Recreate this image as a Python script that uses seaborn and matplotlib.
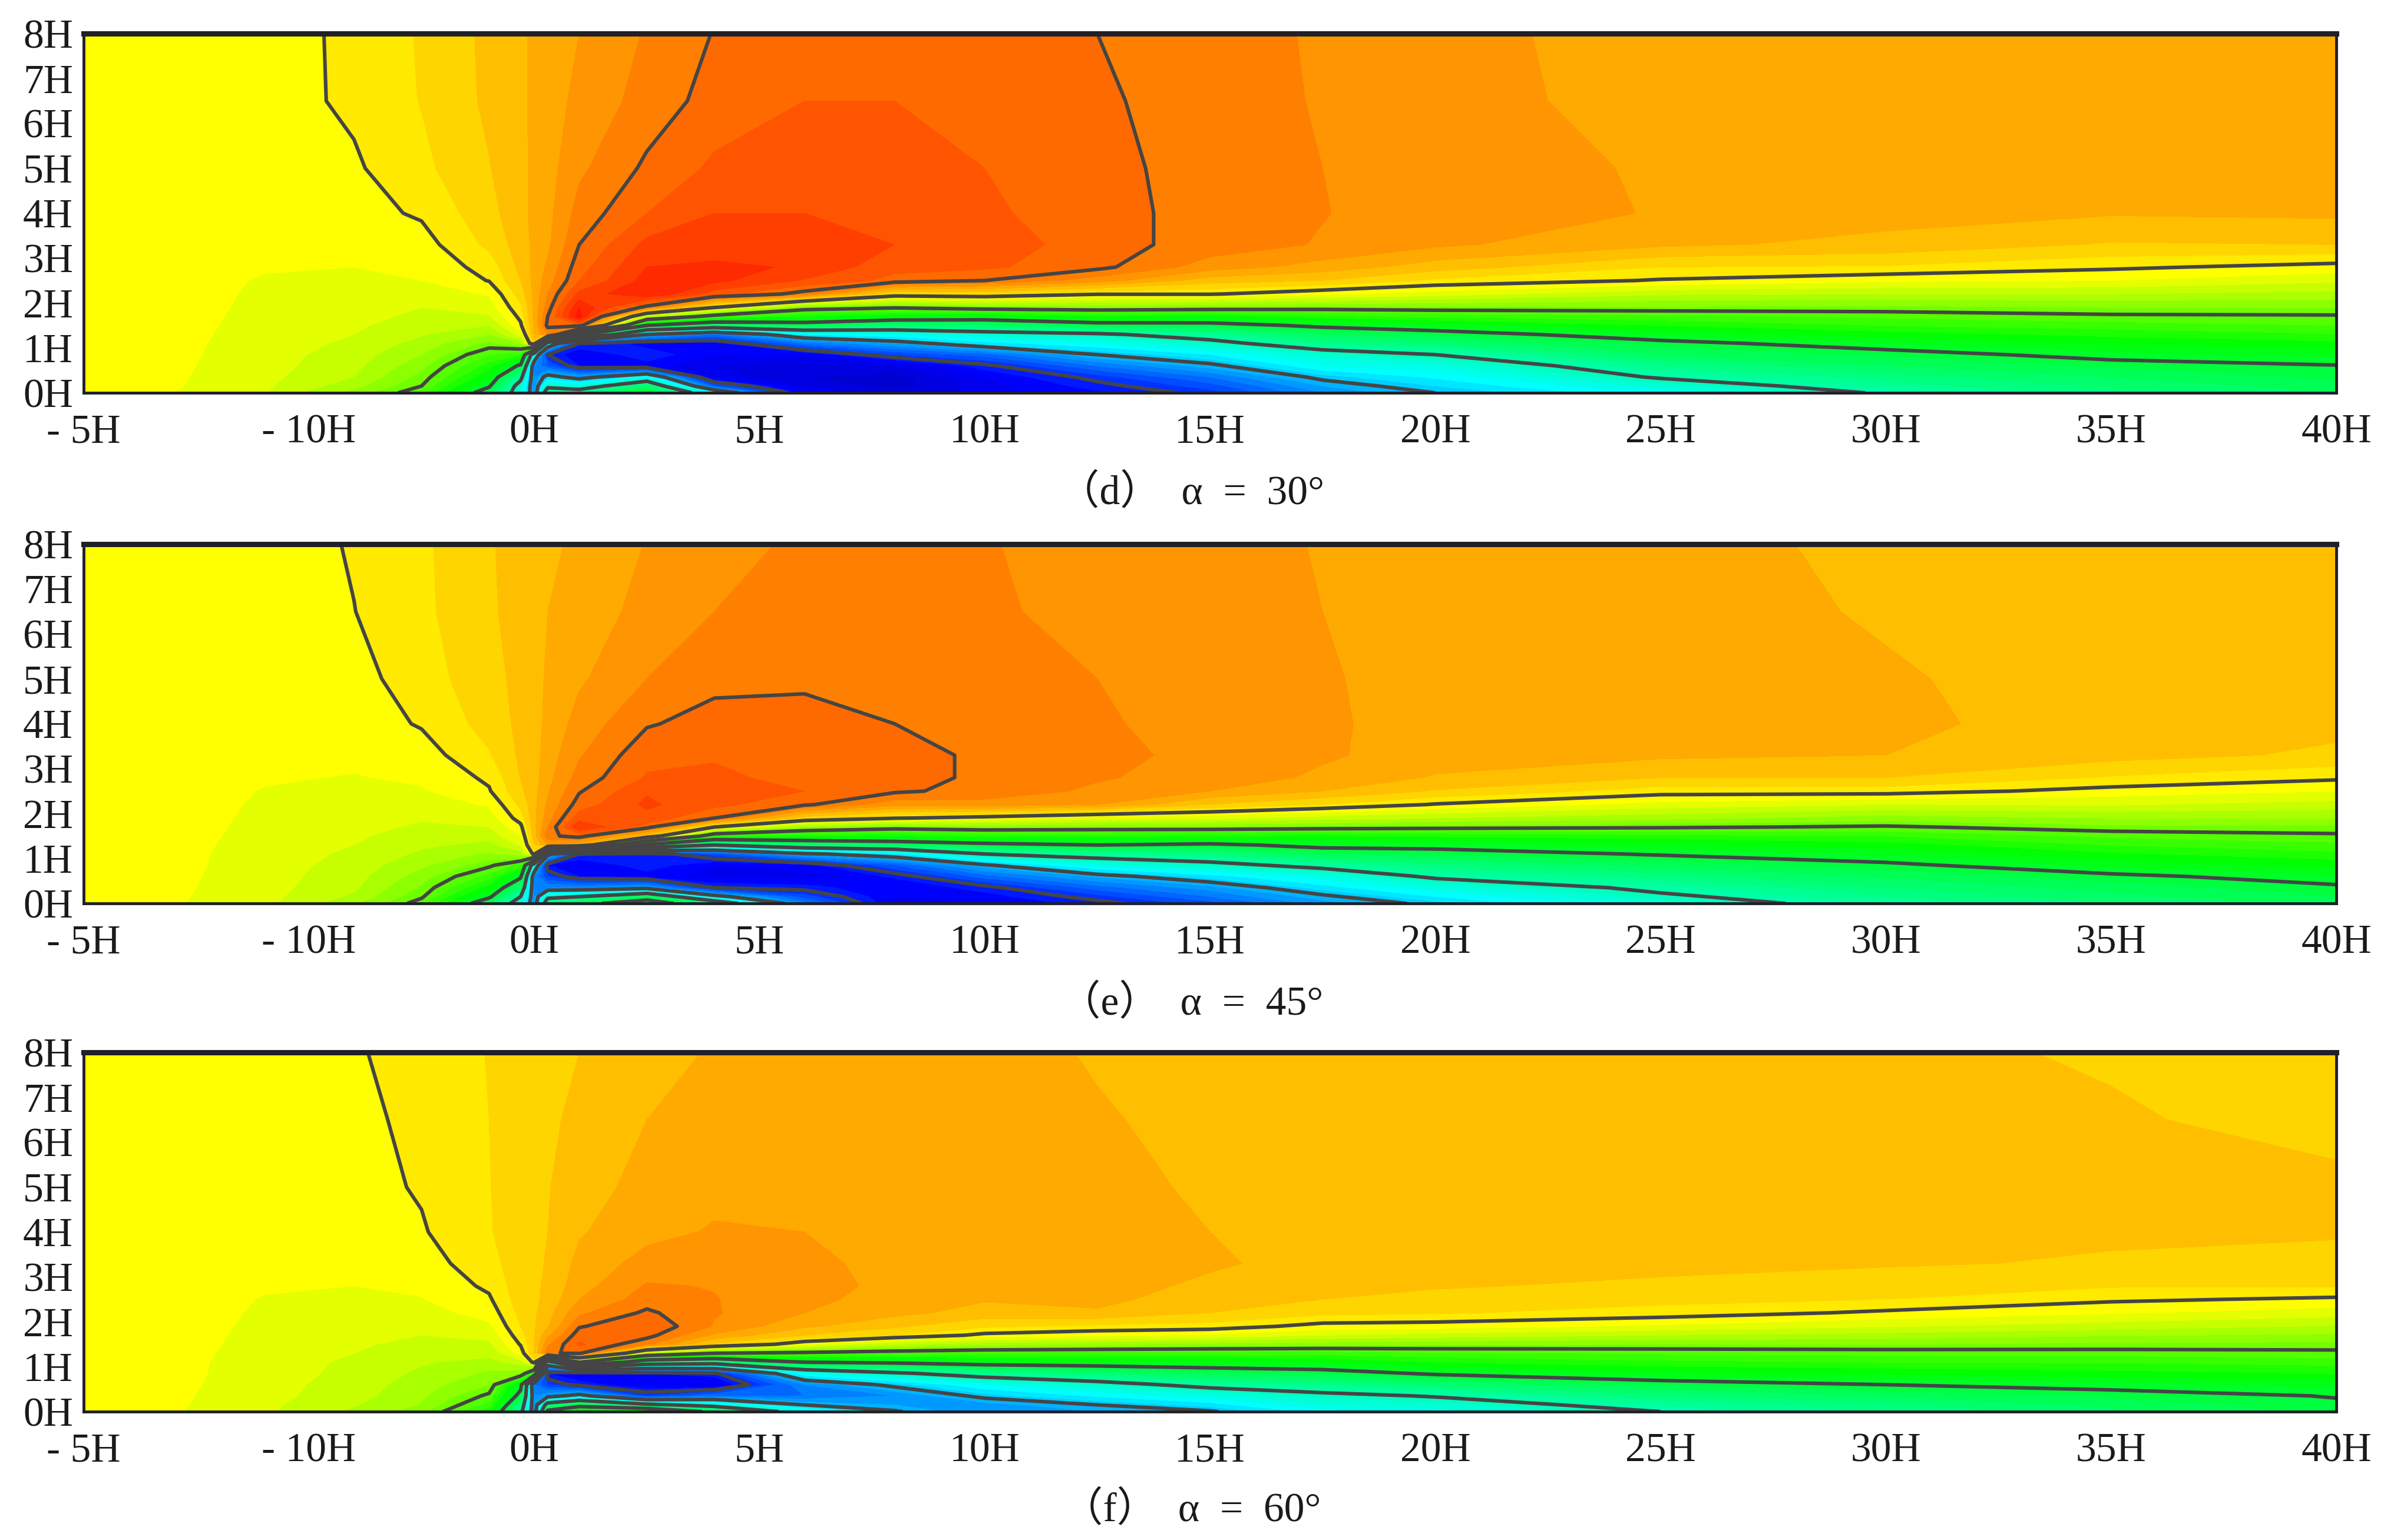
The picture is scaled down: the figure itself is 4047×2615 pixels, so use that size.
import numpy as np
import matplotlib
matplotlib.use('Agg')
import matplotlib.pyplot as plt
import seaborn as sns

sns.set_style('white')
plt.rcParams['font.family'] = ['Liberation Serif', 'Noto Sans CJK SC', 'DejaVu Sans']

# tick labels as printed in the figure
x_ticks = [-10, -5, 0, 5, 10, 15, 20, 25, 30, 35, 40]
x_labels = ['- 5H', '- 10H', '0H', '5H', '10H', '15H', '20H', '25H', '30H', '35H', '40H']
y_ticks = [0, 1, 2, 3, 4, 5, 6, 7, 8]
y_labels = ['0H', '1H', '2H', '3H', '4H', '5H', '6H', '7H', '8H']
captions = ['（d）  α  =  30°', '（e）  α  =  45°', '（f）  α  =  60°']

x_nodes = [-10, -8, -6, -4, -2.5, -1, -0.3, 0, 0.3, 1, 2.5, 4, 6, 8, 10, 12.5, 15, 17.5, 20, 25, 30, 35, 40]
y_nodes = [0, 0.15, 0.35, 0.6, 0.85, 1.1, 1.3, 1.5, 1.7, 1.9, 2.2, 2.5, 2.8, 3.3, 4, 5, 6.5, 8]

# one row per x node, values going up in y
field_d = [
    [.3, .3, .35, .35, .4, .4, .4, .4, .45, .45, .45, .5, .5, .5, .5, .5, .5, .5],
    [.0, .1, .15, .2, .25, .3, .35, .4, .45, .5, .5, .5, .55, .55, .6, .6, .6, .6],
    [-.9, -.8, -.7, -.6, -.55, -.5, -.45, -.4, -.35, -.3, -.2, -.1, .1, .3, .5, .6, .55, .4],
    [-3.5, -2.6, -2, -1.7, -1.5, -1.2, -1, -.85, -.7, -.6, -.4, -.2, 0, .3, .6, .85, 1.2, 1.3],
    [-5.8, -5, -4.4, -3.7, -3, -2.4, -1.9, -1.5, -1.2, -1, -.5, 0, .25, .55, 1.15, 1.75, 2.05, 2.1],
    [-12.5, -10.7, -9, -7.5, -6, -4.3, -3, -2, -1.1, -.5, .1, 1.05, 1.4, 2.25, 2.65, 2.95, 3.2, 3.25],
    [-19, -18.5, -16, -11.5, -7, -3, -.5, .8, 1.3, 1.8, 2.5, 3, 3.3, 3.5, 3.7, 3.75, 3.8, 3.85],
    [-25, -25, -25, -25, -20, 3, 4, 4.2, 4.3, 4.3, 4.3, 4.3, 4.3, 4.25, 4.25, 4.2, 4.2, 4.15],
    [-14, -18, -22, -27, -29, -20, 6, 7.3, 7, 6.5, 6, 5.5, 5.2, 4.8, 4.7, 4.6, 4.5, 4.4],
    [-15, -19, -24, -30, -31, -29, -10, 8, 11.5, 11, 9.3, 8, 7.6, 7, 6.4, 5.8, 5.3, 5],
    [-11, -13.5, -20, -30.5, -29.3, -30.5, -23, -11, -2, 6.5, 11, 10.4, 10, 9.3, 8, 7.2, 6.4, 6.1],
    [-20, -27, -31.5, -32, -31, -30.5, -26, -14, -6, 1, 8.5, 10.3, 10.2, 9.5, 9, 8.2, 7.4, 7.05],
    [-31, -32, -33, -32.5, -31, -26, -21, -12.5, -8, -4, 6.5, 8.9, 9.9, 9.3, 9, 8.6, 8, 7.3],
    [-33, -33.5, -33.5, -32, -28, -24, -20, -14, -9, -4.8, 2, 7.7, 8.3, 9, 8.6, 8.3, 8, 7.4],
    [-31.5, -31.5, -31, -29.4, -26.5, -21.5, -18.5, -13.5, -9.5, -4, 2.2, 7, 8.2, 8.7, 8.2, 8, 7.5, 7.3],
    [-30.2, -29.5, -28.5, -26, -23, -20, -17.5, -12.3, -8, -3.8, 1.1, 5.5, 7.3, 7.4, 7.4, 7.3, 7.15, 7],
    [-28.5, -27.5, -26, -23.5, -21, -18, -15.5, -12, -8.5, -4, 1.1, 3.5, 5.5, 6.6, 6.6, 6.6, 6.55, 6.5],
    [-25, -24, -22.5, -20, -18.5, -15, -13, -10.5, -7.5, -4.3, .2, 3, 4.6, 5.9, 6.05, 6, 5.9, 5.85],
    [-23, -22, -20.8, -19.3, -17, -14, -12, -9.6, -6.8, -4.2, -.5, 1.8, 3.5, 5.2, 5.4, 5.4, 5.3, 5.3],
    [-20, -18.7, -16.7, -15, -13, -11.6, -9.8, -8, -6.3, -4.2, -1.8, .9, 2, 4.2, 4.95, 4.9, 4.7, 4.6],
    [-16.7, -15.5, -14.5, -13, -11.8, -10, -8.5, -7, -5.8, -4.3, -2, .2, 1.9, 3.7, 4.4, 4.5, 4.5, 4.5],
    [-14.5, -13.8, -13, -11.8, -10.3, -8.9, -7.7, -6.5, -5.3, -4, -2, 0, 1.2, 2.9, 4.1, 4.5, 4.5, 4.5],
    [-13, -12.5, -11.8, -11.1, -9.7, -8.3, -7.1, -6, -5.2, -4, -2.3, -.8, .6, 3, 4.2, 4.5, 4.5, 4.5],
]

field_e = [
    [.3, .3, .35, .35, .4, .4, .4, .4, .45, .45, .45, .5, .5, .5, .5, .5, .5, .5],
    [.1, .15, .2, .25, .3, .3, .35, .4, .45, .5, .5, .5, .55, .55, .6, .6, .6, .6],
    [-.7, -.65, -.6, -.55, -.5, -.45, -.4, -.35, -.3, -.25, -.15, -.05, .1, .3, .5, .5, .4, .4],
    [-2.8, -2.2, -1.8, -1.6, -1.4, -1.2, -1, -.85, -.7, -.6, -.4, -.2, -.05, .2, .45, .65, .98, 1.1],
    [-5.6, -4.8, -4.2, -3.5, -2.8, -2.2, -1.8, -1.45, -1.15, -.9, -.45, -.1, .15, .5, 1.1, 1.5, 1.75, 1.8],
    [-13, -10.5, -8.5, -6.5, -4.7, -3.2, -2.3, -1.6, -1, -.5, .1, .9, 1.2, 1.9, 2.4, 2.7, 2.9, 2.95],
    [-19, -17, -14, -10.5, -6.5, -2.5, -.8, 0, .7, 1.5, 2.3, 2.8, 3.05, 3.2, 3.25, 3.25, 3.25, 3.2],
    [-25, -25, -25, -25, -20, 1.5, 3, 3.5, 3.7, 3.7, 3.7, 3.7, 3.6, 3.6, 3.55, 3.5, 3.45, 3.4],
    [-14, -18, -25, -28, -30, -22, 5, 6.7, 6, 5.6, 5.2, 4.9, 4.7, 4.5, 4.3, 4.2, 4, 3.9],
    [-12, -17, -25, -30, -31, -29, 4, 7.5, 10, 8.6, 7.5, 6.9, 6.4, 5.9, 5.4, 4.85, 4.5, 4.1],
    [-9, -13, -24, -30.5, -29.4, -30, -12, 3, 7.5, 8.7, 9.2, 8.9, 8.1, 7.7, 6.9, 6, 5.3, 5.05],
    [-14, -22, -29, -31.5, -31, -27.5, -17, -7, 1, 7, 8.3, 8.4, 8.2, 7.9, 7.4, 6.7, 6, 5.6],
    [-25.5, -27.5, -29.5, -31.5, -30.5, -23.5, -14, -8, -3, 2.5, 7.2, 8, 7.7, 7.6, 7.4, 6.8, 6.4, 6.2],
    [-31, -31, -31, -29.8, -27, -21.5, -13, -8, -4.2, 1.1, 5.4, 7.2, 7.4, 7.4, 7, 6.5, 6.3, 6.1],
    [-31, -30.5, -29.5, -26.5, -23.3, -17, -11.8, -7.5, -3.8, .5, 5.6, 6.6, 6.8, 6.8, 6.6, 6.3, 6.1, 6.05],
    [-29.5, -28.4, -26.5, -23.8, -19.5, -15.5, -11, -7.5, -4, -.5, 5, 5.8, 6.1, 6.2, 6.1, 6, 5.8, 5.7],
    [-27.5, -26, -24.5, -21.5, -18, -14.5, -11.5, -7.8, -4, -.7, 3, 5, 5.6, 5.8, 5.7, 5.5, 5.3, 5.3],
    [-24.5, -23.4, -21.5, -19.5, -16, -12.5, -10.3, -8, -4.3, -1.5, 2, 4, 4.8, 5.15, 5.15, 5.1, 5, 4.95],
    [-22.5, -21, -19.3, -16.5, -14.5, -12, -10.2, -7.8, -4.5, -2, .9, 2.9, 3.9, 4.5, 4.6, 4.6, 4.5, 4.5],
    [-18.5, -17.5, -16.3, -14.5, -12.7, -10.8, -9.3, -7.4, -4.8, -2.7, -.4, 1.5, 3, 4.2, 4.4, 4.4, 4.4, 4.3],
    [-15.8, -15, -14, -12.8, -11.4, -9.8, -8.5, -7, -5.2, -3.5, -1, 1.5, 3, 4, 4.15, 4.1, 3.9, 3.8],
    [-14, -13.4, -12.6, -11.4, -9.7, -8.2, -7, -5.8, -4.3, -3, -.9, .6, 1.9, 3.4, 3.7, 3.6, 3.6, 3.6],
    [-12.5, -12, -11.3, -10.2, -8.7, -7.3, -6.3, -5.3, -4.2, -3, -1.4, 0, 1.2, 2.8, 3.3, 3.4, 3.4, 3.4],
]

field_f = [
    [.3, .3, .35, .35, .4, .4, .4, .4, .45, .45, .45, .5, .5, .5, .5, .5, .5, .5],
    [.1, .15, .2, .25, .3, .3, .35, .4, .45, .5, .5, .5, .55, .55, .6, .6, .6, .6],
    [-.8, -.75, -.65, -.55, -.5, -.45, -.4, -.35, -.3, -.25, -.15, -.05, .1, .3, .5, .6, .6, .6],
    [-2.2, -1.9, -1.6, -1.5, -1.3, -1.2, -1, -.85, -.7, -.55, -.35, -.15, 0, .25, .5, .65, .7, .85],
    [-3.6, -3.1, -2.8, -2.5, -2.2, -1.9, -1.6, -1.3, -1, -.8, -.4, -.05, .2, .55, .9, 1.1, 1.3, 1.58],
    [-8, -6.5, -5.3, -4, -3.2, -2.3, -1.7, -1.2, -.7, -.2, .4, .85, 1.2, 1.6, 1.9, 1.95, 2, 2.03],
    [-16, -14.5, -12, -10, -3.6, -1.5, .4, 1.1, 1.6, 2, 2.3, 2.55, 2.6, 2.65, 2.7, 2.75, 2.8, 2.8],
    [-25, -25, -25, -26, -8, 1.5, 3, 3, 2.95, 2.9, 2.85, 2.8, 2.8, 2.75, 2.7, 2.65, 2.6, 2.5],
    [-10, -15, -24, -28, -30, -20, 6.8, 5.8, 4.8, 3.9, 3.6, 3.3, 3.2, 3.1, 3, 2.95, 2.85, 2.8],
    [-8, -12, -22, -29.5, -31, -5, 7.3, 8.2, 7.6, 6.9, 5.8, 5, 4.6, 4.3, 3.9, 3.5, 3.2, 3],
    [-6.5, -16, -28, -31, -30, -14, -2, 6.2, 7.4, 7.9, 7.2, 6.5, 6.1, 5.4, 4.7, 4.4, 4, 3.6],
    [-12, -18.5, -26, -31.5, -29.4, -15, -5, 2.8, 4.8, 5.9, 6.1, 6.05, 5.95, 5.6, 5.1, 4.7, 4.3, 4.1],
    [-19, -23, -26, -25, -20, -11, -5.5, .1, 3, 4.2, 5, 5.2, 5.3, 5.2, 5, 4.6, 4.4, 4.3],
    [-22.8, -24, -25, -22.5, -17.5, -10.5, -6, -1.8, 2, 3.2, 4.3, 4.7, 4.8, 4.75, 4.6, 4.4, 4.3, 4.2],
    [-25, -24.5, -22.5, -20, -15.5, -9.7, -6.4, -2.6, .7, 2.2, 3.6, 4.1, 4.3, 4.4, 4.4, 4.3, 4.2, 4.2],
    [-24, -23, -20.8, -18.2, -14, -9.5, -6.5, -3, .2, 1.8, 3.9, 4.2, 4.3, 4.35, 4.3, 4.2, 4.05, 3.95],
    [-23.2, -21.5, -19.5, -16, -12.6, -9.4, -6.6, -3.3, -.2, 1.6, 3, 3.6, 3.85, 4.1, 4, 3.9, 3.85, 3.8],
    [-20.5, -19, -17.8, -15, -12, -9.1, -6.6, -3.6, -1, .6, 2.3, 3, 3.4, 3.75, 3.7, 3.7, 3.7, 3.6],
    [-19.5, -18.5, -16.8, -13.9, -10.7, -8, -6.2, -3.8, -1.4, .5, 2.1, 2.7, 3.1, 3.5, 3.6, 3.55, 3.55, 3.5],
    [-17, -15.8, -14.3, -12, -9.3, -7.3, -5.9, -4, -2, -.2, 1.6, 2.3, 2.8, 3.3, 3.45, 3.45, 3.4, 3.3],
    [-15, -14.2, -12.9, -11, -8.8, -7, -5.7, -4, -2.4, -.9, .8, 2, 2.5, 3.1, 3.35, 3.35, 3.3, 3.1],
    [-13.3, -12.7, -11.8, -10.3, -8.4, -6.9, -5.6, -4.2, -2.9, -1.5, .1, 1.2, 2.1, 2.9, 3.15, 3.2, 3.05, 2.95],
    [-11.7, -11.3, -10.9, -9.7, -8, -6.6, -5.4, -4.3, -3.2, -2.1, -.5, .8, 2.1, 2.7, 3.1, 3.1, 2.85, 2.6],
]

fields = [field_d, field_e, field_f]

# colour bands: one unit per band, anchors of the rainbow
band_edges = list(range(-34, 14))
anchor_levels = [-34, -31, -21, -9, 0, 12]
anchor_colors = ['#0000d0', '#0000ff', '#00ffff', '#00ff00', '#ffff00', '#ff0000']
line_levels = [-29, -23, -17, -11, -5, 1, 7]

band_colors = []
for i in range(len(anchor_levels) - 1):
    n = anchor_levels[i + 1] - anchor_levels[i]
    band_colors += sns.blend_palette([anchor_colors[i], anchor_colors[i + 1]], n + 1)[:-1]
band_colors.append(anchor_colors[-1])

W, H = 4048, 2615
panel_tops = [57, 924, 1787]
panel_h = 610
left, right = 142, 3966
caption_y = [838, 1705, 2565]

fig = plt.figure(figsize=(W / 100, H / 100), dpi=100, facecolor='white')

for k in range(3):
    ax = fig.add_axes([left / W, 1 - (panel_tops[k] + panel_h) / H, (right - left) / W, panel_h / H])
    z = np.array(fields[k]).T
    ax.contourf(x_nodes, y_nodes, z, levels=band_edges, colors=band_colors, extend='both')
    ax.contour(x_nodes, y_nodes, z, levels=line_levels, colors='#454545', linewidths=4.4, linestyles='solid')
    ax.set_xlim(-10, 40)
    ax.set_ylim(0, 8)
    ax.set_xticks(x_ticks)
    ax.set_xticklabels(x_labels)
    ax.set_yticks(y_ticks)
    ax.set_yticklabels(y_labels)
    ax.tick_params(axis='x', direction='in', length=15, width=2.5, color='#111111', labelsize=50, pad=26, labelcolor='#1a1a1a', bottom=True)
    ax.tick_params(axis='y', direction='in', length=15, width=2.5, color='#111111', labelsize=50, pad=13, labelcolor='#1a1a1a', left=True)
    for side in ['left', 'right', 'bottom']:
        ax.spines[side].set_linewidth(3.5)
        ax.spines[side].set_color('#202028')
    ax.spines['top'].set_linewidth(6.5)
    ax.spines['top'].set_color('#202028')
    fig.text(2023 / W, 1 - caption_y[k] / H, captions[k], fontsize=50, ha='center', va='center', color='#1a1a1a')

fig.savefig('out.png', dpi=100)
